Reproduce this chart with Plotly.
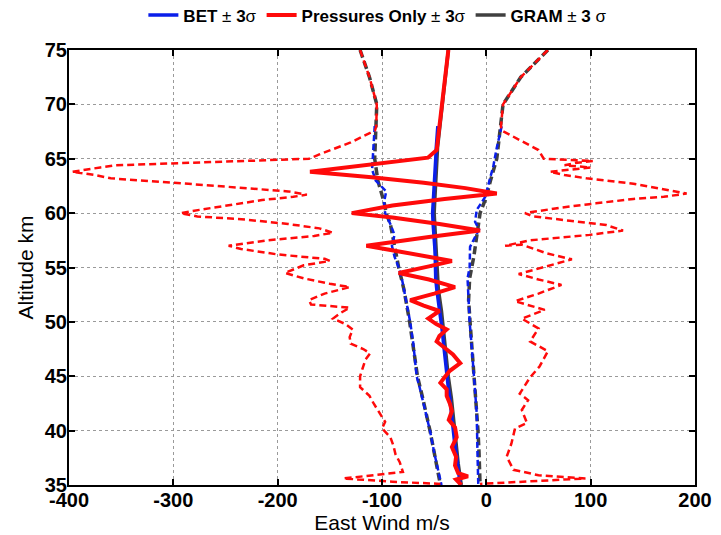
import plotly.graph_objects as go

# ---------------- data ----------------
# BET mean and +/- 3 sigma
bet_mean_alt = [68, 67, 66, 65, 64, 63, 62, 61, 60, 59, 58, 57, 56, 55, 54, 53, 52, 51, 50, 49, 48, 47, 46, 45, 44, 43, 42, 41, 40, 39, 38, 37, 36, 35]
bet_mean = [-46.5, -47.5, -48, -48.5, -49, -49.5, -50, -51, -51.5, -51, -50, -49.5, -49, -49, -48.5, -47.5, -46, -44.5, -43.5, -42, -41, -40, -39, -38, -36.5, -35, -34, -33, -32, -30.5, -29, -27.5, -26.5, -25]
bet_lo_alt = [68, 66, 64, 63, 62, 61, 60, 59, 58, 57, 56, 55, 54, 53, 52, 51, 50, 48, 46, 45, 44, 42, 40, 38, 36, 35]
bet_lo = [-107, -108, -109.5, -106, -96, -98, -97, -92, -88, -90.5, -88, -84, -81, -79, -77, -75, -73, -70, -68, -66.8, -64, -59, -54, -50, -45, -43]
bet_hi_alt = [68, 67, 66, 65, 64.3, 63, 62, 61.5, 60.3, 59.2, 58.5, 57.5, 56.9, 55, 54, 52, 50, 47.7, 45, 41.6, 38, 35]
bet_hi = [14.7, 12, 10, 8, 6.7, 3, 0, -1, -9.2, -10.8, -7, -12, -15.6, -16, -18, -17, -16, -14, -12, -9.2, -8.5, -7.7]

# Pressures-only mean and +/- 3 sigma
pr_mean_alt = [75, 72, 69, 67, 65.8, 65.1, 64.5, 63.8, 63.3, 62.8, 62.3, 61.8, 61.3, 60.7, 60.0, 59.6, 59.0, 58.4, 57.8, 57.0, 56.5, 56.0, 55.6, 55.1, 54.5, 53.9, 53.2, 52.6, 52.0, 51.5, 51.0, 50.3, 49.8, 49.3, 48.7, 48.2, 47.6, 47.0, 46.2, 45.5, 44.9, 44.4, 43.8, 43.2, 42.5, 41.8, 41.0, 40.3, 39.4, 38.5, 37.6, 36.8, 36.1, 35.8, 35.5, 35.0]
pr_mean = [-36.4, -40, -43.5, -46, -47.6, -56, -110, -169, -110, -60, -20, 10, -40, -90, -129, -90, -45, -6, -55, -115, -85, -55, -33, -55, -84, -55, -30, -50, -73, -60, -45, -55.6, -48, -38, -45, -47.6, -40, -32, -25, -35, -40, -44, -38, -38, -35, -33, -36, -30, -28.4, -33, -29, -30, -27, -17.6, -29, -24]
pr_lo_alt = [75, 72.5, 70, 68, 67.6, 66.5, 65.4, 65.0, 64.8, 64.6, 64.4, 64.2, 64.0, 63.8, 63.5, 63.2, 62.8, 62.4, 62.0, 61.7, 61.5, 61.2, 60.7, 60.3, 60.0, 59.7, 59.4, 59.0, 58.6, 58.2, 57.9, 57.5, 57.0, 56.7, 56.2, 55.8, 55.6, 55.2, 54.5, 54.0, 53.5, 53.2, 52.6, 52.0, 51.6, 51.3, 50.8, 50.3, 49.8, 49.3, 48.6, 48.0, 47.5, 47.1, 46.5, 45.8, 45.0, 44.0, 43.2, 42.5, 41.6, 40.8, 40.2, 39.4, 38.6, 37.8, 37.1, 36.2, 35.6, 35.3, 35.1]
pr_lo = [-121, -112, -105, -105.5, -106.7, -130, -160, -170, -230, -300, -355, -370, -385, -397, -375, -360, -300, -240, -190, -172, -185, -215, -250, -275, -293, -277, -230, -190, -160, -147, -165, -210, -247, -235, -200, -155, -150, -175, -193, -175, -150, -131, -155, -170, -168, -131, -140, -147, -135, -128, -131, -130, -118, -111.5, -116, -118, -121, -121, -112, -108, -102, -97, -100, -92, -89, -87, -83, -80, -137, -90, -44]
pr_hi_alt = [75, 72.5, 70, 68, 67.6, 66.7, 65.8, 65.0, 64.9, 64.8, 64.6, 64.4, 64.2, 64.0, 63.8, 63.5, 63.2, 62.7, 62.2, 61.8, 61.5, 61.3, 60.9, 60.5, 60.0, 59.7, 59.3, 58.9, 58.4, 58.0, 57.5, 57.0, 57.1, 56.7, 56.3, 55.75, 55.0, 54.4, 53.9, 53.4, 52.6, 51.9, 51.1, 50.3, 49.4, 48.2, 47.3, 45.9, 44.9, 43.4, 42.8, 41.9, 40.7, 40.2, 38.8, 37.6, 36.4, 35.9, 35.6, 35.3, 35.1]
pr_hi = [59, 33, 16, 14, 14.7, 32, 50, 55, 80, 102, 85, 75, 100, 80, 61, 75, 96, 141, 170, 192, 170, 141, 105, 71, 37, 45, 80, 115, 131, 99, 42, 18, 34, 45, 58, 82, 55, 31, 50, 72, 50, 27.5, 56, 34, 50, 42, 59, 51, 42, 32, 40, 34, 39, 27.5, 24, 19.5, 26, 50, 95, 40, -6]

# GRAM mean and +/- 3 sigma
gram_alt = [75, 72.5, 70, 67.5, 66, 65, 63, 61, 60, 59, 57, 55, 53, 51, 50, 49, 47, 45, 43, 41, 40, 39, 37, 35]
gram_mean = [-36.4, -39.5, -42.5, -45.5, -46.8, -47.3, -48, -49.5, -50, -49.5, -48, -47.5, -46, -43, -42, -40.5, -38.5, -36.5, -33.5, -31.5, -30.5, -29.5, -27, -24]
gram_lo = [-121, -112, -105, -106, -106.5, -107, -104, -98, -96, -92, -88, -84, -79, -75, -73.5, -72, -69, -66, -61, -56, -54, -52, -48, -44]
gram_hi_alt = [75, 72.5, 70, 67.5, 65, 63, 61.5, 60, 58, 56, 54, 52, 50, 48, 46, 44, 42, 40, 38, 35]
gram_hi = [59, 33, 16, 13, 10, 4, 0, -6, -9, -12, -16, -17, -15.6, -14, -12, -10.5, -9, -8, -7, -6]

x_ticks = [-400, -300, -200, -100, 0, 100, 200]
y_ticks = [35, 40, 45, 50, 55, 60, 65, 70, 75]

BLUE = "#0a1eea"
RED = "#ff0a0a"
GRAY = "#404040"
FONT = "Liberation Sans, Arial, Helvetica, sans-serif"

fig = go.Figure()

# GRAM (drawn first)
fig.add_trace(go.Scatter(x=gram_lo, y=gram_alt, mode="lines", line=dict(color=GRAY, width=3.5, dash="8px,4px"), showlegend=False))
fig.add_trace(go.Scatter(x=gram_hi, y=gram_hi_alt, mode="lines", line=dict(color=GRAY, width=3.5, dash="8px,4px"), showlegend=False))
fig.add_trace(go.Scatter(x=gram_mean, y=gram_alt, mode="lines", line=dict(color=GRAY, width=3.5),
                         name="<b>GRAM</b> ± <b>3</b> σ", legendrank=3))
# BET
fig.add_trace(go.Scatter(x=bet_lo, y=bet_lo_alt, mode="lines", line=dict(color=BLUE, width=2.5, dash="6px,3px"), showlegend=False))
fig.add_trace(go.Scatter(x=bet_hi, y=bet_hi_alt, mode="lines", line=dict(color=BLUE, width=2.5, dash="6px,3px"), showlegend=False))
fig.add_trace(go.Scatter(x=bet_mean, y=bet_mean_alt, mode="lines", line=dict(color=BLUE, width=3.5),
                         name="<b>BET</b> ± <b>3</b>σ", legendrank=1))
# Pressures only
fig.add_trace(go.Scatter(x=pr_lo, y=pr_lo_alt, mode="lines", line=dict(color=RED, width=2.5, dash="7px,4px"), showlegend=False))
fig.add_trace(go.Scatter(x=pr_hi, y=pr_hi_alt, mode="lines", line=dict(color=RED, width=2.5, dash="7px,4px"), showlegend=False))
fig.add_trace(go.Scatter(x=pr_mean, y=pr_mean_alt, mode="lines", line=dict(color=RED, width=4),
                         name="<b>Pressures Only</b> ± <b>3</b>σ", legendrank=2))

axis_common = dict(
    showline=True, linecolor="black", linewidth=2, mirror="ticks",
    ticks="inside", ticklen=6, tickwidth=2, tickcolor="black",
    showgrid=True, gridcolor="#9a9a9a", gridwidth=1, griddash="dot",
    zeroline=False, automargin=False, ticklabelstandoff=-4,
    tickfont=dict(family=FONT, size=20, color="black", weight="bold"),
)

fig.update_xaxes(range=[-400, 200], tickvals=x_ticks, ticktext=[str(v) for v in x_ticks],
                 title=dict(text="East Wind m/s", font=dict(family=FONT, size=21, color="black"), standoff=0),
                 **axis_common)
fig.update_yaxes(range=[35, 75], tickvals=y_ticks, ticktext=[str(v) for v in y_ticks],
                 title=dict(text="Altitude km", font=dict(family=FONT, size=21, color="black"), standoff=5),
                 **axis_common)

fig.update_layout(
    width=721, height=535,
    margin=dict(l=61, r=34, t=42, b=58),
    paper_bgcolor="white", plot_bgcolor="white",
    font=dict(family=FONT, color="black"),
    legend=dict(orientation="h", x=0.513, xref="container", xanchor="center",
                y=0.986, yref="container", yanchor="middle",
                font=dict(family=FONT, size=17, color="black"), bgcolor="rgba(0,0,0,0)",
                itemwidth=30, tracegroupgap=0),
)

fig.write_html("out.html")
